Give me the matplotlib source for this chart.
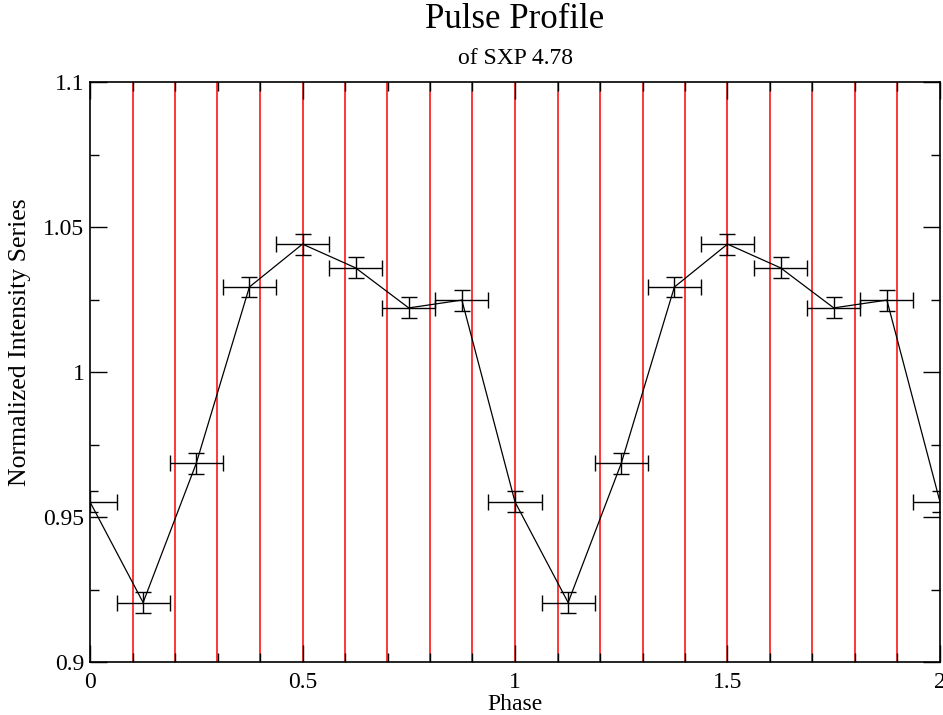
import matplotlib
matplotlib.use("Agg")
import matplotlib.pyplot as plt
from matplotlib.ticker import MultipleLocator, FuncFormatter

plt.rcParams['font.family'] = ['Liberation Serif', 'DejaVu Serif']

phase = [0.0, 0.125, 0.25, 0.375, 0.5, 0.625, 0.75, 0.875,
         1.0, 1.125, 1.25, 1.375, 1.5, 1.625, 1.75, 1.875, 2.0]
intensity = [0.9552, 0.9205, 0.9685, 1.0293, 1.0441, 1.0359, 1.0221, 1.0248,
             0.9552, 0.9205, 0.9685, 1.0293, 1.0441, 1.0359, 1.0221, 1.0248, 0.9552]
y_err = [0.0036] * len(phase)
x_err = [0.0625] * len(phase)
red_lines = [0.1, 0.2, 0.3, 0.4, 0.5, 0.6, 0.7, 0.8, 0.9, 1.0,
             1.1, 1.2, 1.3, 1.4, 1.5, 1.6, 1.7, 1.8, 1.9]

fig = plt.figure(figsize=(9.43, 7.15), dpi=100)
ax = fig.add_axes([90/943, 1 - 662/715, 850/943, 580/715])

for xv in red_lines:
    ax.axvline(xv, color='red', lw=1.1, zorder=1)

ax.plot(phase, intensity, color='black', lw=0.9, zorder=3)
ax.errorbar(phase, intensity, xerr=x_err, yerr=y_err, fmt='none',
            ecolor='black', elinewidth=1.0, capsize=6, capthick=1.0, zorder=4)

ax.set_xlim(0, 2)
ax.set_ylim(0.9, 1.1)
ax.xaxis.set_major_locator(MultipleLocator(0.5))
ax.xaxis.set_minor_locator(MultipleLocator(0.1))
ax.yaxis.set_major_locator(MultipleLocator(0.05))
ax.yaxis.set_minor_locator(MultipleLocator(0.025))
ax.xaxis.set_major_formatter(FuncFormatter(lambda v, p: f"{v:g}"))
ax.yaxis.set_major_formatter(FuncFormatter(lambda v, p: f"{v:g}"))
ax.tick_params(which='both', direction='in', top=True, right=True, labelsize=17, width=1.0)
ax.tick_params(which='major', length=12)
ax.tick_params(which='minor', length=6.5)
ax.tick_params(axis='x', pad=7)
ax.tick_params(axis='y', pad=4)
for s in ax.spines.values():
    s.set_linewidth(1.2)

ax.set_xlabel('Phase', fontsize=17)
ax.xaxis.label.set_va('center')
ax.xaxis.set_label_coords(0.5, (662 - 705) / 580)
ax.set_ylabel('Normalized Intensity Series', fontsize=18.5)
ax.yaxis.label.set_va('center')
ax.yaxis.set_label_coords((20 - 90) / 850, (662 - 342) / 580)

cx = (90 + 940) / 2 / 943
fig.text(cx, 1 - 19/715, 'Pulse Profile', ha='center', va='center', fontsize=25)
fig.text(cx, 1 - 58/715, 'of SXP 4.78', ha='center', va='center', fontsize=17)

fig.savefig('out.png', dpi=100)
